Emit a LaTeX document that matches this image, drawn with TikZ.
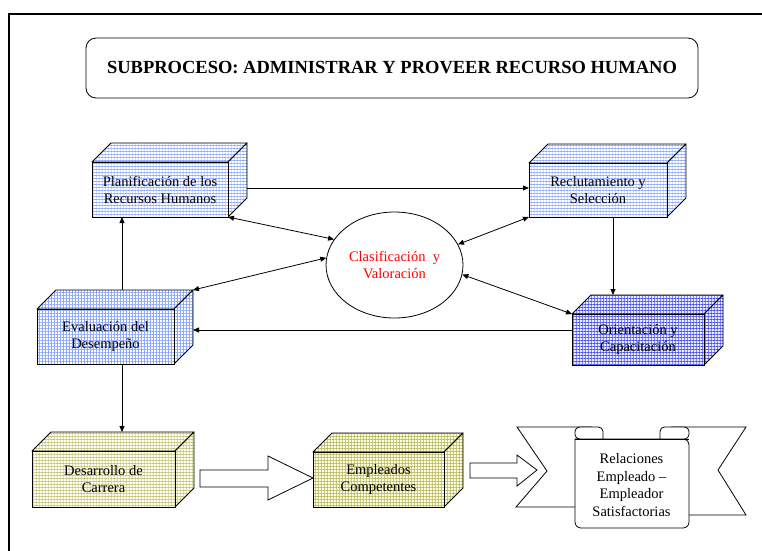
\documentclass[tikz,border=0pt]{standalone}
\usepackage{fontspec}
\setmainfont{Liberation Serif}
\usetikzlibrary{arrows.meta,calc,patterns.meta,shapes.geometric}

\definecolor{lineblue}{RGB}{50,100,255}
\definecolor{deepblue}{RGB}{30,40,235}
\definecolor{lineolive}{RGB}{150,150,20}
\newcommand\boxfont{\fontsize{14.5}{17}\selectfont}

% A cuboid: front face is a named node, top and right faces are drawn behind it.
% #1 name, #2 centre of the front face, #3 width, #4 height, #5 fill style, #6 text
\newcommand\drawcuboid[6]{%
  \coordinate (#1-c) at (#2);
  \coordinate (#1-fnw) at ($(#1-c)+(-#3/2,-#4/2)$);
  \coordinate (#1-fne) at ($(#1-c)+(#3/2,-#4/2)$);
  \coordinate (#1-fse) at ($(#1-c)+(#3/2,#4/2)$);
  \coordinate (#1-bnw) at ($(#1-fnw)+(19,-19)$);
  \coordinate (#1-bne) at ($(#1-fne)+(19,-19)$);
  \coordinate (#1-bse) at ($(#1-fse)+(19,-19)$);
  \path[#5,draw,line width=0.9pt,line join=round] (#1-fnw) -- (#1-bnw) -- (#1-bne) -- (#1-fne) -- cycle;
  \path[#5,draw,line width=0.9pt,line join=round] (#1-fne) -- (#1-bne) -- (#1-bse) -- (#1-fse) -- cycle;
  \node[boxface,#5,minimum width=#3pt,minimum height=#4pt] (#1) at (#1-c) {#6};
}

\begin{document}
\begin{tikzpicture}[x=1pt,y=-1pt,
  boxface/.style={draw,line width=0.9pt,inner sep=0pt,outer sep=0pt,align=center,font=\boxfont},
  bluegrid/.style={preaction={fill=white},
    preaction={pattern={Lines[angle=90,distance=3pt,line width=0.4pt]},pattern color=lineblue!20},
    pattern={Lines[angle=0,distance=3pt,line width=0.6pt]},pattern color=lineblue!55},
  densegrid/.style={preaction={fill=white},
    preaction={pattern={Lines[angle=90,distance=3pt,line width=0.5pt]},pattern color=lineblue!55},
    pattern={Lines[angle=0,distance=3pt,line width=0.5pt]},pattern color=lineblue!55},
  darkgrid/.style={preaction={fill=deepblue!10},
    preaction={pattern={Lines[angle=90,distance=3pt,line width=0.5pt]},pattern color=deepblue!55},
    pattern={Lines[angle=0,distance=3pt,line width=0.7pt]},pattern color=deepblue!80},
  olivegrid/.style={preaction={fill=yellow!6},
    preaction={pattern={Lines[angle=90,distance=3pt,line width=0.4pt]},pattern color=lineolive!30},
    pattern={Lines[angle=0,distance=3pt,line width=0.6pt]},pattern color=lineolive!55},
  olivedense/.style={preaction={fill=yellow!12},
    preaction={pattern={Lines[angle=90,distance=3pt,line width=0.5pt]},pattern color=lineolive!50},
    pattern={Lines[angle=0,distance=3pt,line width=0.6pt]},pattern color=lineolive!65},
  arr/.style={-{Triangle[length=6pt,width=5pt]},line width=0.8pt},
  darr/.style={{Triangle[length=6pt,width=5pt]}-{Triangle[length=6pt,width=5pt]},line width=0.8pt},
  blockarrow/.style={draw,fill=white,line width=0.8pt,line join=miter},
  ribbon/.style={draw,line width=0.8pt,line join=miter}]

\useasboundingbox (0,0) rectangle (762,550);
\clip (0,0) rectangle (762,550);

% page frame
\draw[line width=1.6pt] (9,14) rectangle (790,580);

% heading
\node[draw,rounded corners=10pt,line width=0.8pt,minimum width=612pt,minimum height=60pt,
  font=\bfseries\fontsize{18.5}{22}\selectfont] (title) at (392,68)
  {SUBPROCESO: ADMINISTRAR Y PROVEER RECURSO HUMANO};

% process blocks
\drawcuboid{plan}{160,189.5}{136}{55}{bluegrid}{Planificación de los\\Recursos Humanos}
\drawcuboid{recl}{598,190}{138}{54}{bluegrid}{Reclutamiento y\\Selección}
\drawcuboid{eval}{105.5,336.5}{137}{55}{densegrid}{Evaluación del\\Desempeño}
\drawcuboid{orie}{638,339.5}{132}{51}{darkgrid}{Orientación y\\Capacitación}
\drawcuboid{desa}{103.5,479}{143}{56}{olivegrid}{Desarrollo de\\Carrera}
\drawcuboid{empl}{378.5,479.5}{131}{55}{olivedense}{Empleados\\Competentes}

% central ellipse
\node[ellipse,draw,line width=0.8pt,minimum width=137pt,minimum height=106pt,inner sep=0pt,
  text=red,align=center,font=\boxfont] (clas) at (394.5,265) {Clasificación\ \ y\\Valoración};

% connectors
\draw[arr] ([xshift=19pt,yshift=1.5pt]plan.east) -- ([yshift=1.5pt]plan.east -| recl.west);
\draw[darr] (plan.south east) -- (clas.157);
\draw[darr] (recl.south west) -- (clas.18);
\draw[arr] ([xshift=15pt]recl.south) -- ([xshift=15pt]recl.south |- orie-bnw);
\draw[darr] (orie.north west) -- (clas.352);
\draw[arr] ([yshift=9.5pt]orie.west) -- ([yshift=9.5pt]orie.west -| eval-bne);
\draw[darr] (eval-bne) -- (clas.174);
\draw[arr] ([xshift=-38pt]plan.south |- eval-bnw) -- ([xshift=-38pt]plan.south);
\draw[arr] ([xshift=16.5pt]eval.south) -- ([xshift=16.5pt]eval.south |- desa-bnw);

% wide arrows along the bottom row
\draw[blockarrow] (200,470) -- (268,470) -- (268,456) -- (313,478) -- (268,500) -- (268,487) -- (200,487) -- cycle;
\draw[blockarrow] (470,463) -- (517,463) -- (517,455) -- (537,470) -- (517,486) -- (517,478) -- (470,478) -- cycle;

% ribbon banner with its scroll panel
\draw[ribbon] (592,427) -- (517,427) -- (547,471) -- (516,507) -- (575,507);
\draw[ribbon] (671,427) -- (746,427) -- (718,470) -- (746,515) -- (689,515);
\draw[ribbon,fill=white,rounded corners=6pt] (575,439) -- (575,528) -- (689,528) -- (689,439) [sharp corners] -- cycle;
\draw[ribbon,fill=white,rounded corners=4.5pt] (603,439) -- (603,427) -- (575,427) -- (575,439) -- (603,439);
\draw[ribbon,fill=white,rounded corners=4.5pt] (660,439) -- (660,427) -- (689,427) -- (689,439) -- (660,439);
\draw[ribbon] (575,439) -- (689,439);
\node[align=center,font=\fontsize{14.5}{17.5}\selectfont] (rel) at (631.5,485)
  {Relaciones\\Empleado –\\Empleador\\Satisfactorias};

\end{tikzpicture}
\end{document}
